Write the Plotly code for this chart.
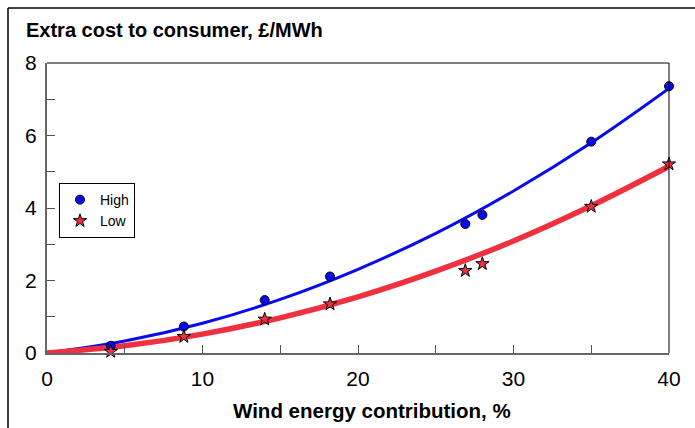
import plotly.graph_objects as go

# Data
wind_pct = [4.1, 8.8, 14.0, 18.2, 26.9, 28.0, 35.0, 40.0]
high_cost = [0.20, 0.73, 1.46, 2.11, 3.56, 3.81, 5.83, 7.36]
low_cost = [0.04, 0.45, 0.93, 1.35, 2.27, 2.46, 4.04, 5.21]

# Fitted trend curves at 5 % steps
curve_x = [0, 5, 10, 15, 20, 25, 30, 35, 40]
high_curve = [0.0, 0.33, 0.82, 1.48, 2.31, 3.30, 4.47, 5.80, 7.30]
low_curve = [0.0, 0.20, 0.52, 0.97, 1.55, 2.26, 3.09, 4.06, 5.15]

x_ticks = [0, 10, 20, 30, 40]
y_ticks = [0, 2, 4, 6, 8]

BLUE = "#0a0af0"
RED = "#f0303f"

fig = go.Figure()
fig.add_trace(go.Scatter(x=curve_x, y=high_curve, mode="lines",
                         line=dict(color=BLUE, width=3, shape="spline", smoothing=1),
                         showlegend=False, hoverinfo="skip", cliponaxis=False))
fig.add_trace(go.Scatter(x=curve_x, y=low_curve, mode="lines",
                         line=dict(color=RED, width=5.5, shape="spline", smoothing=1),
                         showlegend=False, hoverinfo="skip", cliponaxis=False))
fig.add_trace(go.Scatter(x=wind_pct, y=high_cost, mode="markers", name="High",
                         marker=dict(symbol="circle", size=9, color=BLUE,
                                     line=dict(color="black", width=1)),
                         cliponaxis=False))
fig.add_trace(go.Scatter(x=wind_pct, y=low_cost, mode="markers", name="Low",
                         marker=dict(symbol="star", size=10, color=RED,
                                     line=dict(color="black", width=1)),
                         cliponaxis=False))

W, H = 695, 428
L, R, T, B = 47, 26, 63, 75
pw, ph = W - L - R, H - T - B


def px(xp):
    return (xp - L) / pw


def py(yp):
    return (H - B - yp) / ph


FONT = "Liberation Sans, Arial, sans-serif"

fig.update_layout(
    width=W, height=H,
    margin=dict(l=L, r=R, t=T, b=B, pad=0),
    paper_bgcolor="white", plot_bgcolor="white",
    font=dict(family=FONT, color="black"),
    showlegend=True,
    legend=dict(x=px(59), y=py(183), xanchor="left", yanchor="top",
                bordercolor="black", borderwidth=1, bgcolor="white",
                font=dict(size=14, family=FONT), itemwidth=30,
                tracegroupgap=0),
    xaxis=dict(range=[0, 40], tickvals=x_ticks, ticks="inside", ticklen=8,
               tickcolor="#555", showgrid=False, zeroline=False,
               showline=True, linecolor="#666", linewidth=2,
               tickfont=dict(size=21), ticklabelstandoff=6,
               minor=dict(dtick=5, ticks="inside", ticklen=8, tickcolor="#555",
                          showgrid=False)),
    yaxis=dict(range=[0, 8], tickvals=y_ticks, ticks="inside", ticklen=8,
               tickcolor="#555", showgrid=False, zeroline=False,
               showline=True, linecolor="#666", linewidth=2,
               tickfont=dict(size=21), ticklabelstandoff=4,
               minor=dict(dtick=1, ticks="inside", ticklen=8, tickcolor="#555",
                          showgrid=False)),
    shapes=[
        dict(type="line", xref="paper", yref="paper", x0=0, x1=1, y0=1, y1=1,
             line=dict(color="black", width=1)),
        dict(type="line", xref="paper", yref="paper", x0=1, x1=1, y0=0, y1=1,
             line=dict(color="black", width=1)),
        dict(type="line", xref="paper", yref="paper", x0=px(8), x1=px(W + 5),
             y0=py(8), y1=py(8), line=dict(color="#444", width=2)),
        dict(type="line", xref="paper", yref="paper", x0=px(8), x1=px(8),
             y0=py(8), y1=py(H + 5), line=dict(color="black", width=1.5)),
    ],
    annotations=[
        dict(text="<b>Extra cost to consumer, £/MWh</b>", xref="paper", yref="paper",
             x=px(24), y=py(30), xanchor="left", yanchor="middle", showarrow=False,
             font=dict(size=20, family=FONT)),
        dict(text="<b>Wind energy contribution, %</b>", xref="paper", yref="paper",
             x=px(372), y=py(410), xanchor="center", yanchor="middle", showarrow=False,
             font=dict(size=20.5, family=FONT)),
    ],
)

fig.write_html("out.html")
